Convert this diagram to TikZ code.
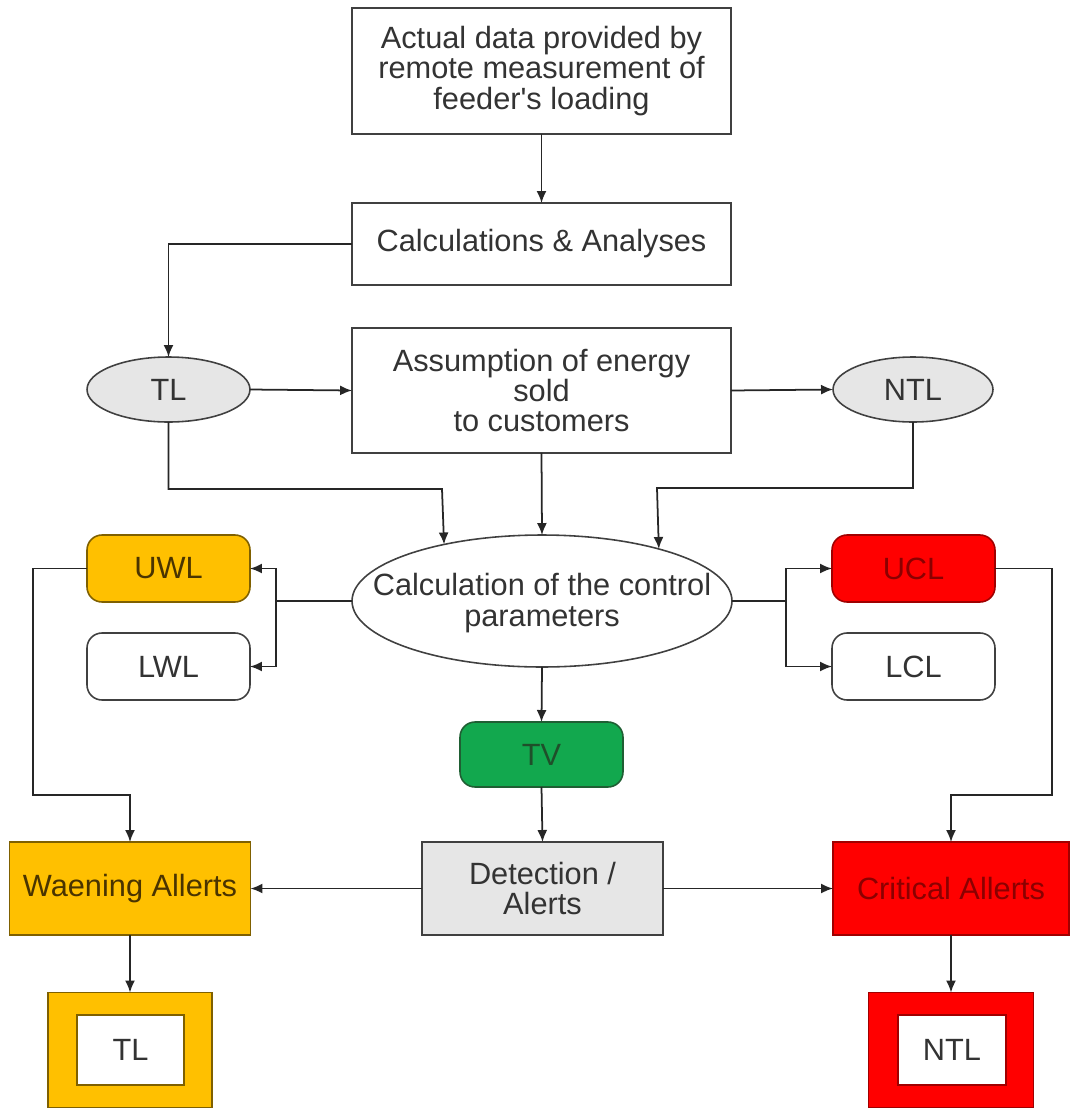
\documentclass[tikz,border=0pt]{standalone}
\usepackage{fontspec}
\defaultfontfeatures[\rmfamily]{}
\setmainfont{Liberation Sans}
\usetikzlibrary{shapes.geometric,arrows.meta}
\definecolor{txt}{HTML}{333333}
\definecolor{bord}{HTML}{404040}
\definecolor{grayfill}{HTML}{E6E6E6}
\definecolor{orangefill}{HTML}{FFC000}
\definecolor{orangebord}{HTML}{7F6000}
\definecolor{orangetxt}{HTML}{4A3400}
\definecolor{redfill}{HTML}{FF0000}
\definecolor{redbord}{HTML}{A00000}
\definecolor{redtxt}{HTML}{8B0000}
\definecolor{greenfill}{HTML}{12A84E}
\definecolor{greenbord}{HTML}{1F5F33}
\definecolor{greentxt}{HTML}{1F4F2A}
\begin{document}
\begin{tikzpicture}[x=0.02cm,y=-0.02cm,
  every node/.style={font=\fontsize{17.5}{17.3}\selectfont, text=txt, align=center,
    inner sep=0pt, outer sep=0pt, line width=0.9pt},
  box/.style={draw=bord, rectangle, fill=white},
  oval/.style={draw=bord, ellipse, fill=grayfill},
  pill/.style={draw=bord, rectangle, rounded corners=0.3cm, fill=white,
    minimum width=3.26cm, minimum height=1.34cm},
  arr/.style={-{Latex[length=0.24cm,width=0.2cm]}, line width=1pt, draw=black!85},
  ln/.style={line width=1pt, draw=black!85}
]
\useasboundingbox (0,0) rectangle (1070,1109);

% top column
\node[box, minimum width=7.58cm, minimum height=2.52cm] (data) at (541.5,71)
  {Actual data provided by\\remote measurement of\\feeder's loading};
\node[box, minimum width=7.58cm, minimum height=1.64cm] (calc) at (541.5,244)
  {Calculations \& Analyses};
\node[box, minimum width=7.58cm, minimum height=2.5cm] (assume) at (541.5,390.5)
  {Assumption of energy\\sold\\to customers};
\node[oval, minimum width=3.26cm, minimum height=1.3cm] (tl) at (168.5,389.5) {TL};
\node[oval, minimum width=3.2cm, minimum height=1.3cm] (ntl) at (913,389.5) {NTL};
\node[draw=bord, ellipse, fill=white, minimum width=7.6cm, minimum height=2.64cm] (ctrl) at (542,601) {};
\node (ctrltxt) at (542,603) {Calculation of the control\\parameters};

% limits
\node[pill, fill=orangefill, draw=orangebord, text=orangetxt] (uwl) at (168.5,568.5) {UWL};
\node[pill] (lwl) at (168.5,666.5) {LWL};
\node[pill, fill=redfill, draw=redbord, text=redtxt] (ucl) at (913.5,568.5) {UCL};
\node[pill] (lcl) at (913.5,666.5) {LCL};
\node[pill, fill=greenfill, draw=greenbord, text=greentxt, minimum height=1.3cm] (tv) at (541.5,754.5) {TV};

% detection row
\node[box, fill=grayfill, minimum width=4.82cm, minimum height=1.86cm] (det) at (542.5,888.5)
  {Detection /\\Alerts};
\node[box, fill=orangefill, draw=orangebord, text=orangetxt, minimum width=4.82cm, minimum height=1.86cm] (warn) at (130,888.5)
  {Waening Allerts};
\node[box, fill=redfill, draw=redbord, text=redtxt, minimum width=4.72cm, minimum height=1.86cm] (crit) at (951,888.5)
  {Critical Allerts};

% result boxes
\node[box, fill=orangefill, draw=orangebord, minimum width=3.28cm, minimum height=2.3cm] (tlout) at (130,1050) {};
\node[box, minimum width=2.14cm, minimum height=1.4cm, draw=orangebord] (tlin) at (130.5,1050) {TL};
\node[box, fill=redfill, draw=redbord, minimum width=3.3cm, minimum height=2.3cm] (ntlout) at (951,1050) {};
\node[box, minimum width=2.16cm, minimum height=1.4cm, draw=redbord] (ntlin) at (952,1050) {NTL};

% coordinates
\coordinate (jtl) at (442,489);
\coordinate (jntl) at (657,488);
\coordinate (bl) at (276,601);
\coordinate (br) at (786,601);
\coordinate (lw) at (33,795);
\coordinate (rw) at (1052,795);

% connectors
\draw[arr] (data.south) -- (calc.north);
\draw[arr] (calc.west) -| (tl.north);
\draw[arr] (tl.east) -- (assume.west);
\draw[arr] (assume.east) -- (ntl.west);
\draw[arr] (tl.south) |- (jtl) -- (ctrl.150.75);
\draw[arr] (ntl.south) |- (jntl) -- (ctrl.24.5);
\draw[arr] (assume.south) -- (ctrl.north);
\draw[ln] (ctrl.west) -- (bl);
\draw[arr] (bl) |- (uwl.east);
\draw[arr] (bl) |- (lwl.east);
\draw[ln] (ctrl.east) -- (br);
\draw[arr] (br) |- (ucl.west);
\draw[arr] (br) |- (lcl.west);
\draw[arr] (ctrl.south) -- (tv.north);
\draw[arr] (tv.south) -- (det.north);
\draw[arr] (uwl.west) -| (lw) -| (warn.north);
\draw[arr] (ucl.east) -| (rw) -| (crit.north);
\draw[arr] (det.west) -- (warn.east);
\draw[arr] (det.east) -- (crit.west);
\draw[arr] (warn.south) -- (tlout.north);
\draw[arr] (crit.south) -- (ntlout.north);
\end{tikzpicture}
\end{document}
